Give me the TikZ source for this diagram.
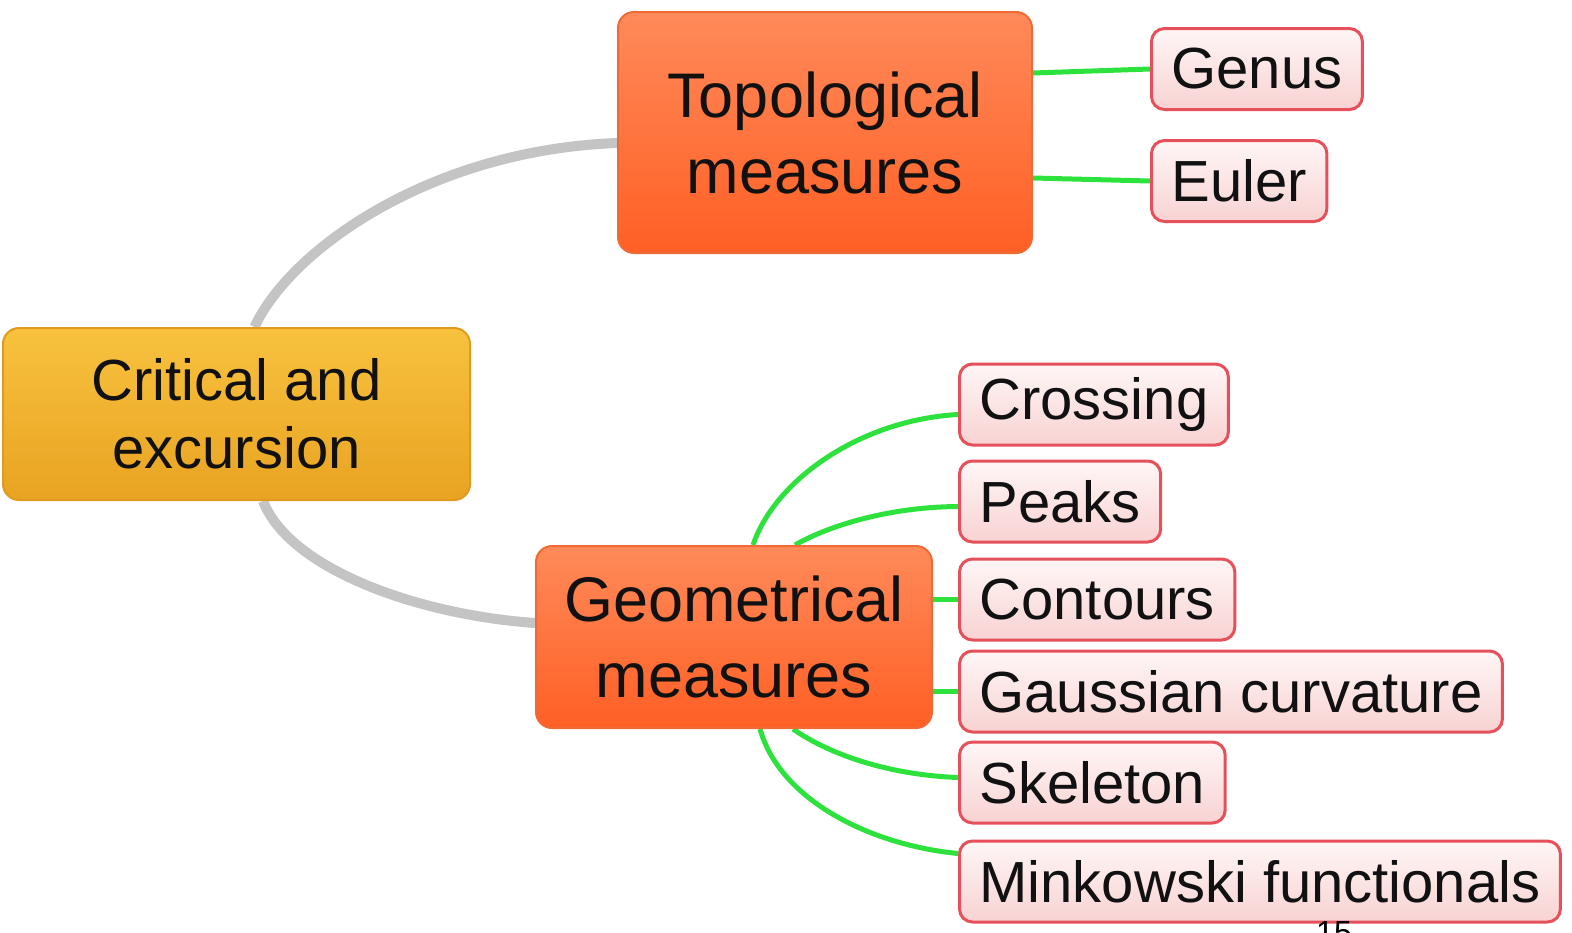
\documentclass[tikz,border=0pt]{standalone}
\usepackage{fontspec}
\setmainfont{Liberation Sans}
\usetikzlibrary{backgrounds}
\definecolor{rootTop}{HTML}{F8C23E}
\definecolor{rootBot}{HTML}{E8A322}
\definecolor{rootEdge}{HTML}{E09A1E}
\definecolor{topicTop}{HTML}{FF8A5A}
\definecolor{topicBot}{HTML}{FF5F24}
\definecolor{topicEdge}{HTML}{F06A35}
\definecolor{leafTop}{HTML}{FFF6F6}
\definecolor{leafBot}{HTML}{F8D2D2}
\definecolor{leafEdge}{HTML}{E5505A}
\definecolor{edgeGray}{HTML}{C4C4C4}
\definecolor{edgeGreen}{HTML}{2EE23E}
\definecolor{txt}{HTML}{111111}
\begin{document}
\begin{tikzpicture}[x=1pt,y=-1pt,
  rootbox/.style={rounded corners=16pt, draw=rootEdge, line width=2pt,
    top color=rootTop, bottom color=rootBot, minimum width=467pt,
    minimum height=172pt, align=center, text=txt, inner sep=0pt,
    font=\fontsize{58}{68}\selectfont},
  topicbox/.style={rounded corners=16pt, draw=topicEdge, line width=2pt,
    top color=topicTop, bottom color=topicBot, align=center, text=txt,
    inner sep=0pt, font=\fontsize{63}{76}\selectfont},
  leafbox/.style={anchor=west, rounded corners=13pt, draw=leafEdge,
    line width=3pt, top color=leafTop, bottom color=leafBot, text=txt,
    minimum height=81pt, inner xsep=20pt, inner ysep=0pt,
    font=\fontsize{58}{68}\selectfont},
  grayedge/.style={draw=edgeGray, line width=10pt},
  greenedge/.style={draw=edgeGreen, line width=5pt}]
\useasboundingbox (0,0) rectangle (1572,932);
\clip (0,0) rectangle (1572,932);

\node[rootbox] (root) at (236.5,414) {Critical and\\excursion};
\node[topicbox, minimum width=414pt, minimum height=241pt] (topo) at (825,132.5) {Topological\\measures};
\node[topicbox, minimum width=396pt, minimum height=182pt] (geo) at (734,637) {Geometrical\\measures};

\node[leafbox] (genus) at (1150,69) {Genus};
\node[leafbox] (euler) at (1150,181) {Euler};
\node[leafbox] (cross) at (958,404.5) {Crossing};
\node[leafbox] (peaks) at (958,501.5) {Peaks};
\node[leafbox] (cont) at (958,599.5) {Contours};
\node[leafbox] (gauss) at (958,691.5) {Gaussian curvature};
\node[leafbox] (skel) at (958,782.5) {Skeleton};
\node[leafbox] (mink) at (958,881.5) {Minkowski functionals};

\node[anchor=north west, inner sep=0pt, text=black, font=\fontsize{32}{38}\selectfont] (pagenum) at (1316,921) {15};

\begin{pgfonlayer}{background}
  \path[grayedge] ([xshift=18pt]root.north) .. controls (290,250) and (430,150) .. ([yshift=-10.5pt]topo.west);
  \path[grayedge] ([xshift=26.5pt]root.south) .. controls (290,570) and (420,615) .. ([yshift=14pt]geo.west);
  \path[greenedge] ([yshift=59.5pt]topo.east) -- (genus.west);
  \path[greenedge] ([yshift=-45.5pt]topo.east) -- (euler.west);
  \path[greenedge] ([xshift=19pt]geo.north) .. controls (775,480) and (860,420) .. ([yshift=-10pt]cross.west);
  \path[greenedge] ([xshift=61pt]geo.north) .. controls (830,525) and (890,507) .. ([yshift=-5pt]peaks.west);
  \path[greenedge] (cont.west -| geo.east) -- (cont.west);
  \path[greenedge] (gauss.west -| geo.east) -- (gauss.west);
  \path[greenedge] ([xshift=59pt]geo.south) .. controls (830,755) and (890,775) .. ([yshift=5pt]skel.west);
  \path[greenedge] ([xshift=26pt]geo.south) .. controls (780,800) and (870,845) .. ([yshift=28pt]mink.west);
\end{pgfonlayer}
\end{tikzpicture}
\end{document}
